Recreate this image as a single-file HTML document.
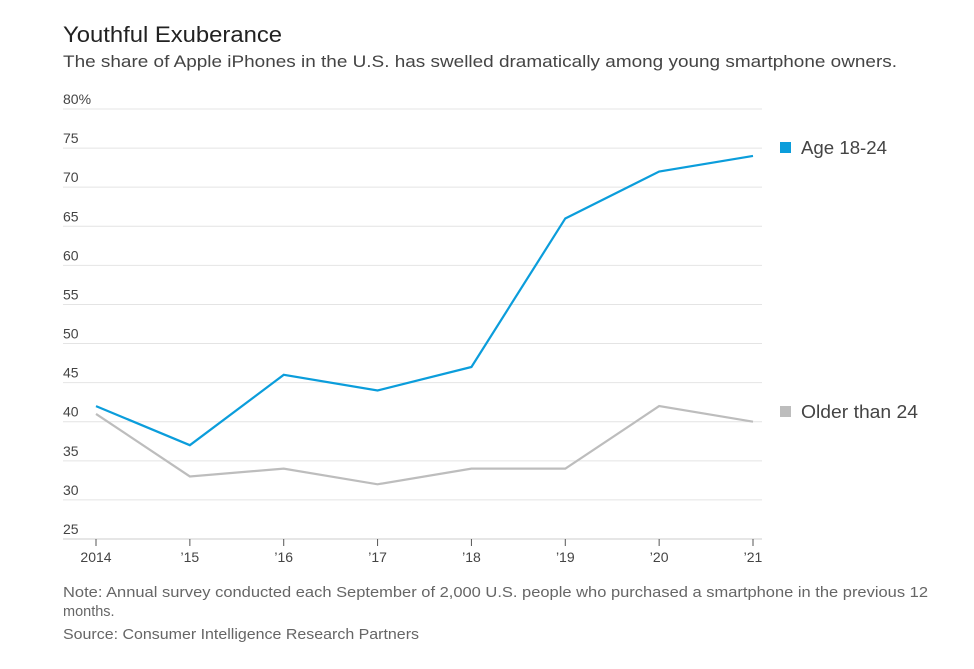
<!DOCTYPE html>
<html><head><meta charset="utf-8"><style>
body{margin:0;background:#fff;width:974px;height:664px;overflow:hidden;font-family:"Liberation Sans",sans-serif;}
</style></head><body>
<svg width="974" height="664" xmlns="http://www.w3.org/2000/svg">
<text x="63" y="42" font-size="22" fill="#222" textLength="219" lengthAdjust="spacingAndGlyphs">Youthful Exuberance</text>
<text x="63" y="67" font-size="17" fill="#444" textLength="834" lengthAdjust="spacingAndGlyphs">The share of Apple iPhones in the U.S. has swelled dramatically among young smartphone owners.</text>
<g id="grid"></g><g id="series"></g>
<rect x="780" y="142" width="11" height="11" fill="#0b9ddb"/>
<text x="801" y="154" font-size="18" fill="#444" textLength="86" lengthAdjust="spacingAndGlyphs">Age 18-24</text>
<rect x="780" y="406" width="11" height="11" fill="#bdbdbd"/>
<text x="801" y="418" font-size="18" fill="#444" textLength="117" lengthAdjust="spacingAndGlyphs">Older than 24</text>
<text x="63" y="597" font-size="14.5" fill="#666" textLength="865" lengthAdjust="spacingAndGlyphs">Note: Annual survey conducted each September of 2,000 U.S. people who purchased a smartphone in the previous 12</text>
<text x="63" y="616" font-size="14.5" fill="#666">months.</text>
<text x="63" y="639" font-size="14.5" fill="#666" textLength="356" lengthAdjust="spacingAndGlyphs">Source: Consumer Intelligence Research Partners</text>
</svg>
<script>
const years=['2014','\u201915','\u201916','\u201917','\u201918','\u201919','\u201920','\u201921'];
const young=[42,37,46,44,47,66,72,74];
const older=[41,33,34,32,34,34,42,40];
const yTicks=[25,30,35,40,45,50,55,60,65,70,75,80];
const NS='http://www.w3.org/2000/svg';
function x(i){return 96+i*(753-96)/(years.length-1);}
function y(v){return 539-(v-25)*(539-109)/55;}
function mk(t,a,p){const e=document.createElementNS(NS,t);for(const k in a)e.setAttribute(k,a[k]);p.appendChild(e);return e;}
const g=document.getElementById('grid');
yTicks.forEach(v=>{
 const l=mk('line',{x1:63,x2:762,y1:y(v),y2:y(v),stroke:v===25?'#ccc':'#e4e4e4','stroke-width':1},g);
 
 
 const t=mk('text',{x:63,y:y(v)-5,'font-size':14,fill:'#444'},g);
 t.textContent=v===80?'80%':v;
 
 
});
years.forEach((yr,i)=>{
 const l=mk('line',{x1:x(i),x2:x(i),y1:539,y2:546,stroke:'#555','stroke-width':1},g);
 
 
 const t=mk('text',{x:x(i),y:562,'font-size':14,fill:'#444','text-anchor':'middle'},g);
 t.textContent=yr;
 
 
});
const s=document.getElementById('series');
[[older,'#bdbdbd','line-older'],[young,'#0b9ddb','line-age-18-24']].forEach(([d,c,n])=>{
 const p=mk('polyline',{points:d.map((v,i)=>x(i)+','+y(v)).join(' '),fill:'none',stroke:c,'stroke-width':2.2},s);
 
 
});
</script>
</body></html>
